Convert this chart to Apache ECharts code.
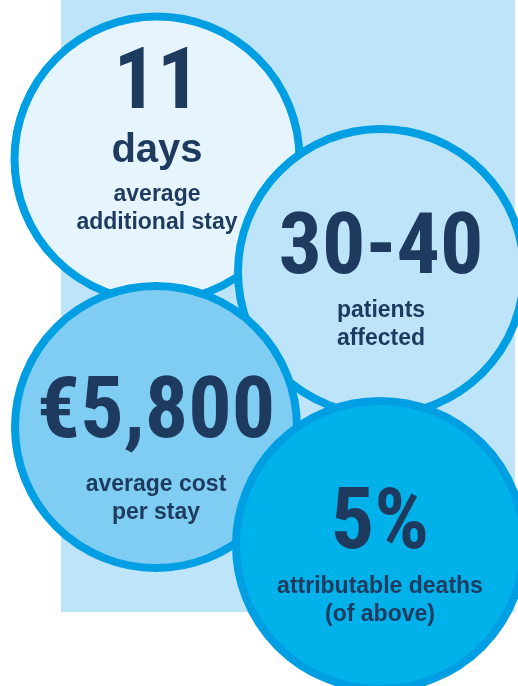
<!DOCTYPE html>
<html>
<head>
<meta charset="utf-8">
<script src="https://cdn.jsdelivr.net/npm/echarts@6/dist/echarts.min.js"></script>
<style>
  html, body { margin: 0; padding: 0; background: #fff; }
  #chart { width: 518px; height: 686px; }
</style>
</head>
<body>
<div id="chart"></div>
<script>
// figures shown in the bubbles
const bigValues = ['11', '30-40', '€5,800', '5%']
const units = ['days', '', '', '']
const captions = [
  ['average', 'additional stay'],
  ['patients', 'affected'],
  ['average cost', 'per stay'],
  ['attributable deaths', '(of above)']
]
// bubble centres and outer radii, in axis units
const centerX = [157, 381, 156, 380]
const centerY = [159, 272, 427, 545]
const radius = [146.5, 147, 145, 148]
const fills = ['#e6f4fd', '#bde4f8', '#80cdf3', '#00b1ea']

const navy = '#1e3a5f'
const border = 8
const bigLine = [70, 92, 111, 94]
const labelShift = [-15, 7, 16.5, 9]

const mChart = echarts.init(document.getElementById('chart'))

const bubbles = bigValues.map((v, i) => {
  let text = '{big|' + v + '}'
  if (units[i]) text += '\n{unit|' + units[i] + '}'
  captions[i].forEach(c => { text += '\n{cap|' + c + '}' })
  return {
    value: [centerX[i], centerY[i]],
    symbolSize: radius[i] * 2 - border,
    itemStyle: { color: fills[i] },
    label: {
      formatter: text,
      offset: [0, labelShift[i]],
      rich: {
        big: {
          fontFamily: '"Roboto Condensed", sans-serif',
          fontWeight: 'bold',
          fontSize: 86,
          color: navy,
          lineHeight: bigLine[i]
        },
        unit: {
          fontFamily: '"Liberation Sans", Arial, sans-serif',
          fontWeight: 'bold',
          fontSize: 40,
          color: navy,
          lineHeight: 60
        },
        cap: {
          fontFamily: '"Liberation Sans", Arial, sans-serif',
          fontWeight: 'bold',
          fontSize: 23,
          color: navy,
          lineHeight: 28
        }
      }
    }
  }
})

const option = {
  animation: false,
  grid: { left: 0, right: 0, top: 0, bottom: 0 },
  xAxis: { type: 'value', min: 0, max: 518, show: false },
  yAxis: { type: 'value', min: 0, max: 686, inverse: true, show: false },
  series: [
    {
      // light blue backdrop panel
      type: 'scatter',
      data: [],
      z: 1,
      silent: true,
      markArea: {
        silent: true,
        itemStyle: { color: '#bee4f9' },
        data: [[{ coord: [61, 0] }, { coord: [515, 612] }]]
      }
    },
    {
      type: 'scatter',
      z: 2,
      symbol: 'circle',
      silent: true,
      itemStyle: {
        borderColor: '#009fe3',
        borderWidth: border,
        opacity: 1
      },
      label: {
        show: true,
        position: 'inside',
        align: 'center',
        verticalAlign: 'middle'
      },
      data: bubbles
    }
  ]
}
mChart.setOption(option)
</script>
</body>
</html>
